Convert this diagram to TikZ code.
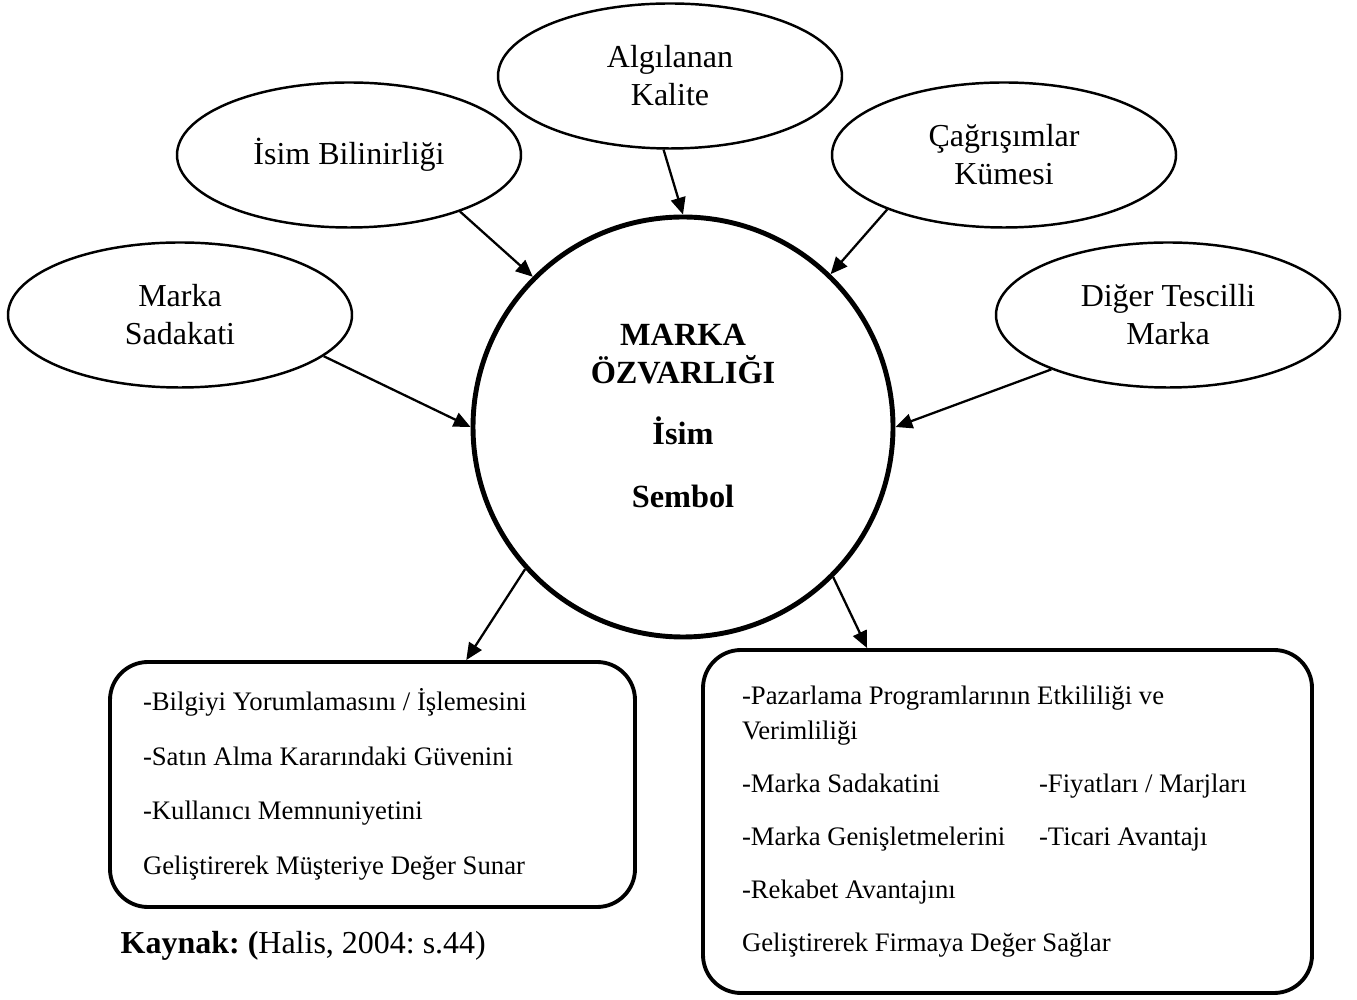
\documentclass[tikz,border=0pt]{standalone}
\usepackage{fontspec}
\setmainfont{Liberation Serif}
\usetikzlibrary{shapes.geometric, arrows.meta}
\frenchspacing

\begin{document}
\begin{tikzpicture}[bubble/.style={draw, ellipse, line width=0.7pt, minimum width=3.44cm, minimum height=1.45cm, inner sep=0pt, align=center, font=\fontsize{9.1}{10.8}\selectfont},
core/.style={draw, circle, line width=1.4pt, minimum size=4.2cm, inner sep=0pt},
panel/.style={draw, rectangle, rounded corners=0.38cm, line width=1.1pt, align=flush left},
link/.style={-{Triangle[length=4.8pt,width=4.2pt]}, line width=0.65pt}]
\useasboundingbox (0,0) rectangle (13.57,-10);
% centre and the five parts around it
\node[core] (Core) at (6.83,-4.27) {};
\node[font=\bfseries\fontsize{9.2}{10.8}\selectfont, align=center] (CoreTxt) at (6.83,-4.16) {MARKA\\ÖZVARLIĞI\\[6.5pt]İsim\\[7pt]Sembol};
\node[bubble] (Algi) at (6.70,-0.76) {Algılanan\\Kalite};
\node[bubble] (Isim) at (3.49,-1.55) {İsim Bilinirliği};
\node[bubble] (Cagri) at (10.04,-1.55) {Çağrışımlar\\Kümesi};
\node[bubble] (Sadakat) at (1.80,-3.15) {Marka\\Sadakati};
\node[bubble] (Diger) at (11.68,-3.15) {Diğer Tescilli\\Marka};
\draw[link] (Algi.-95) -- (Core.90);
\draw[link] (Isim.-27) -- (Core.135);
\draw[link] (Cagri.-155) -- (Core.46);
\draw[link] (Sadakat.-16) -- (Core.180);
\draw[link] (Diger.-155) -- (Core.0);
% the two value boxes
\node[panel, minimum width=5.25cm, minimum height=2.45cm, inner xsep=0.33cm, text width=4.59cm, font=\fontsize{7.6}{15.5}\selectfont] (LBox) at (3.725,-7.845) {-Bilgiyi Yorumlamasını / İşlemesini\\-Satın Alma Kararındaki Güvenini\\-Kullanıcı Memnuniyetini\\Geliştirerek Müşteriye Değer Sunar};
\node[panel, minimum width=6.09cm, minimum height=3.43cm, inner xsep=0.39cm, text width=5.31cm, font=\fontsize{7.6}{9.9}\selectfont] (RBox) at (10.075,-8.215) {-Pazarlama Programlarının Etkililiği ve\\Verimliliği\\[5.2pt]\makebox[2.97cm][l]{-Marka Sadakatini}-Fiyatları / Marjları\\[5.2pt]\makebox[2.97cm][l]{-Marka Genişletmelerini}-Ticari Avantajı\\[5.2pt]-Rekabet Avantajını\\[5.2pt]Geliştirerek Firmaya Değer Sağlar};
\draw[link] (Core.222) -- (LBox.53);
\draw[link] (Core.-45) -- (RBox.129);
\node[anchor=base west, inner sep=0pt, font=\fontsize{9.1}{10.8}\selectfont] (Src) at (1.20,-9.53) {\textbf{Kaynak: (}Halis, 2004: s.44)};
\end{tikzpicture}
\end{document}
